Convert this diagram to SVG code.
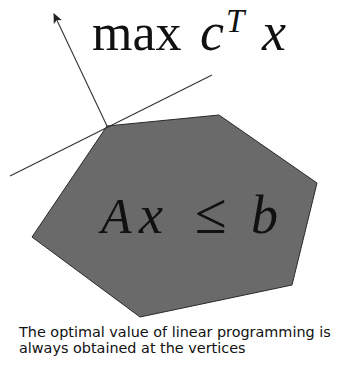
<svg xmlns="http://www.w3.org/2000/svg" width="341" height="368" viewBox="0 0 341 368">
  <defs>
    <marker id="arrow" viewBox="0 0 10 10" refX="9" refY="5" markerWidth="10" markerHeight="10" markerUnits="userSpaceOnUse" orient="auto">
      <path d="M0,0.5 L10,5 L0,9.5 L2.5,5 Z" fill="#222"/>
    </marker>
  </defs>
  <style>
    .math { font-family: "Liberation Serif", "DejaVu Serif", serif; fill: #111; }
    .it { font-style: italic; }
    .caption { font-family: "DejaVu Sans", "Verdana", sans-serif; font-size: 14.4px; fill: #111; }
    .line { stroke: #333; stroke-width: 1.1; fill: none; }
  </style>
  <rect width="341" height="368" fill="#ffffff"/>
  <g id="feasible-region">
    <polygon points="107,126 219,115 317,183 292,285 140,317 32,237" fill="#6a6a6a" stroke="#2a2a2a" stroke-width="1"/>
    <text class="math" y="233" font-size="50"><tspan class="it" x="101">A</tspan><tspan class="it" x="139" font-size="54">x</tspan><tspan x="195" font-size="58">≤</tspan><tspan class="it" x="251" font-size="54">b</tspan></text>
  </g>
  <g id="connectors">
    <line class="line" x1="10" y1="176" x2="212" y2="75"/>
    <line class="line" x1="107" y1="126" x2="54" y2="14" marker-end="url(#arrow)"/>
  </g>
  <g id="objective">
    <text class="math" y="50" font-size="52"><tspan x="92">max</tspan><tspan class="it" x="200" font-size="54">c</tspan><tspan class="it" x="226" y="32" font-size="33">T</tspan><tspan class="it" x="262" y="50" font-size="54">x</tspan></text>
  </g>
  <g id="caption">
    <text class="caption" x="19" y="337">The optimal value of linear programming is</text>
    <text class="caption" x="19" y="352.5">always obtained at the vertices</text>
  </g>
</svg>
